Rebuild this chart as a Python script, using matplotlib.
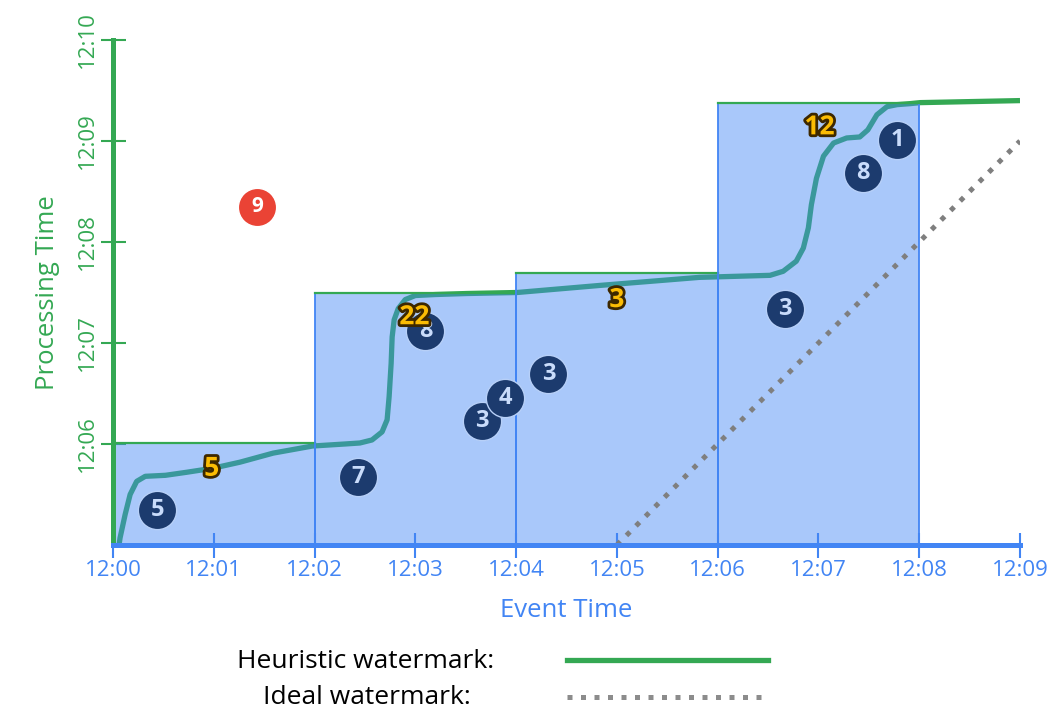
import numpy as np
import matplotlib
matplotlib.use("Agg")
import matplotlib.pyplot as plt
import matplotlib.patheffects as pe
from matplotlib.patches import Rectangle
from matplotlib.lines import Line2D

# times are minutes after 12:00
x_ticks = [0, 1, 2, 3, 4, 5, 6, 7, 8, 9]
x_tick_labels = ["12:00", "12:01", "12:02", "12:03", "12:04", "12:05", "12:06", "12:07", "12:08", "12:09"]
y_ticks = [6, 7, 8, 9, 10]
y_tick_labels = ["12:06", "12:07", "12:08", "12:09", "12:10"]

# windows: start, end, watermark at end
win_start = [0, 2, 4, 6]
win_end = [2, 4, 6, 8]
win_top = [6.01, 7.50, 7.69, 9.38]

# heuristic watermark
heur_x = [0.06, 0.07, 0.12, 0.17, 0.235, 0.32, 0.52, 0.73, 0.99, 1.26,
          1.59, 1.98, 2.30, 2.45, 2.57, 2.67, 2.72, 2.74, 2.76, 2.77,
          2.79, 2.83, 2.90, 3.00, 3.20, 3.51, 4.01, 4.83, 5.82, 6.52,
          6.65, 6.78, 6.85, 6.90, 6.93, 6.98, 7.05, 7.15, 7.28, 7.41,
          7.49, 7.58, 7.68, 7.78, 7.91, 8.01, 8.50, 9.00]
heur_y = [5.00, 5.07, 5.30, 5.50, 5.63, 5.68, 5.69, 5.72, 5.76, 5.82,
          5.91, 5.98, 6.00, 6.01, 6.04, 6.12, 6.24, 6.47, 6.80, 7.06,
          7.23, 7.34, 7.43, 7.47, 7.48, 7.49, 7.50, 7.57, 7.65, 7.67,
          7.71, 7.81, 7.94, 8.14, 8.37, 8.63, 8.85, 8.98, 9.03, 9.04,
          9.11, 9.26, 9.34, 9.36, 9.37, 9.38, 9.39, 9.40]

# ideal watermark
ideal_x = [5, 9]
ideal_y = [5, 9]

# on-time data points (event time, processing time, value)
pt_x = [0.44, 2.43, 3.10, 3.66, 3.89, 4.32, 6.67, 7.44, 7.78]
pt_y = [5.35, 5.67, 7.12, 6.23, 6.46, 6.69, 7.34, 8.68, 9.01]
pt_val = ["5", "7", "8", "3", "4", "3", "3", "8", "1"]

# late data point
late_x = [1.43]
late_y = [8.35]
late_val = ["9"]

# window sums
sum_x = [0.98, 2.99, 5.00, 7.01]
sum_y = [5.76, 7.26, 7.43, 9.14]
sum_val = ["5", "22", "3", "12"]

green = "#34a853"
blue = "#4285f4"
navy = "#1c3b6e"
red = "#ea4335"
gold = "#fbbc04"

plt.rcParams['font.family'] = ['Open Sans', 'DejaVu Sans']

fig = plt.figure(figsize=(10.55, 7.27), dpi=100)
ax = fig.add_axes([113 / 1055, 1 - 545 / 727, 907 / 1055, 505 / 727])

ax.plot(heur_x, heur_y, color=green, lw=3.8, zorder=1, solid_capstyle='butt',
        solid_joinstyle='round')

for s, e, t in zip(win_start, win_end, win_top):
    ax.add_patch(Rectangle((s, 5), e - s, t - 5, facecolor=blue, alpha=0.45, edgecolor='none', zorder=2))
    ax.plot([s, s], [5, t], color=blue, lw=1.3, zorder=3)
    ax.plot([e, e], [5, t], color=blue, lw=1.3, zorder=3)
    ax.plot([s, e], [t, t], color=green, lw=1.6, zorder=3)

ax.plot(ideal_x, ideal_y, color="#7f7f7f", lw=3.6, linestyle=(0, (1, 1.7)), zorder=3)

ax.scatter(pt_x, pt_y, s=760, color=navy, edgecolors="#b7d0f8", linewidths=1, zorder=4)
for x, y, v in zip(pt_x, pt_y, pt_val):
    ax.text(x, y, v, ha='center', va='center', color="#c9dcfb", fontsize=17,
            fontweight='bold', zorder=5)

ax.scatter(late_x, late_y, s=760, color=red, edgecolors='white', linewidths=1, zorder=4)
for x, y, v in zip(late_x, late_y, late_val):
    ax.text(x, y, v, ha='center', va='center', color="white", fontsize=15,
            fontweight='bold', zorder=5)

for x, y, v in zip(sum_x, sum_y, sum_val):
    ax.text(x, y, v, ha='center', va='center', color=gold, fontsize=19, fontweight='bold',
            zorder=6, path_effects=[pe.withStroke(linewidth=4, foreground="#3d2800")])

ax.set_xlim(0, 9)
ax.set_ylim(5, 10)
for side in ['top', 'right']:
    ax.spines[side].set_visible(False)
ax.spines['left'].set_color(green)
ax.spines['left'].set_linewidth(3.6)
ax.spines['bottom'].set_color(blue)
ax.spines['bottom'].set_linewidth(3.6)
ax.spines['left'].set_zorder(7)
ax.spines['bottom'].set_zorder(8)

ax.set_xticks(x_ticks)
ax.set_xticklabels(x_tick_labels)
ax.set_yticks(y_ticks)
ax.set_yticklabels(y_tick_labels, rotation=90, va='center')
ax.tick_params(axis='x', direction='inout', length=18, width=1.5, color=blue,
               labelcolor=blue, labelsize=16, pad=2)
ax.tick_params(axis='y', direction='inout', length=18, width=1.5, color=green,
               labelcolor=green, labelsize=16, pad=2)

ax.set_xlabel("Event Time", color=blue, fontsize=18.5, labelpad=12)
ax.set_ylabel("Processing Time", color=green, fontsize=18.5, labelpad=12)

# legend drawn by hand below the chart
fig.text(494 / 1055, 1 - 661 / 727, "Heuristic watermark:", ha='right', va='center',
         fontsize=19, color='black')
fig.text(471 / 1055, 1 - 698 / 727, "Ideal watermark:", ha='right', va='center',
         fontsize=19, color='black')
fig.add_artist(Line2D([567 / 1055, 768 / 1055], [1 - 660 / 727, 1 - 660 / 727],
                      color=green, lw=3.8, transform=fig.transFigure))
fig.add_artist(Line2D([567 / 1055, 768 / 1055], [1 - 697 / 727, 1 - 697 / 727],
                      color="#8c8c8c", lw=3.6, linestyle=(0, (1, 1.7)), transform=fig.transFigure))

fig.savefig("out.png", dpi=100)
